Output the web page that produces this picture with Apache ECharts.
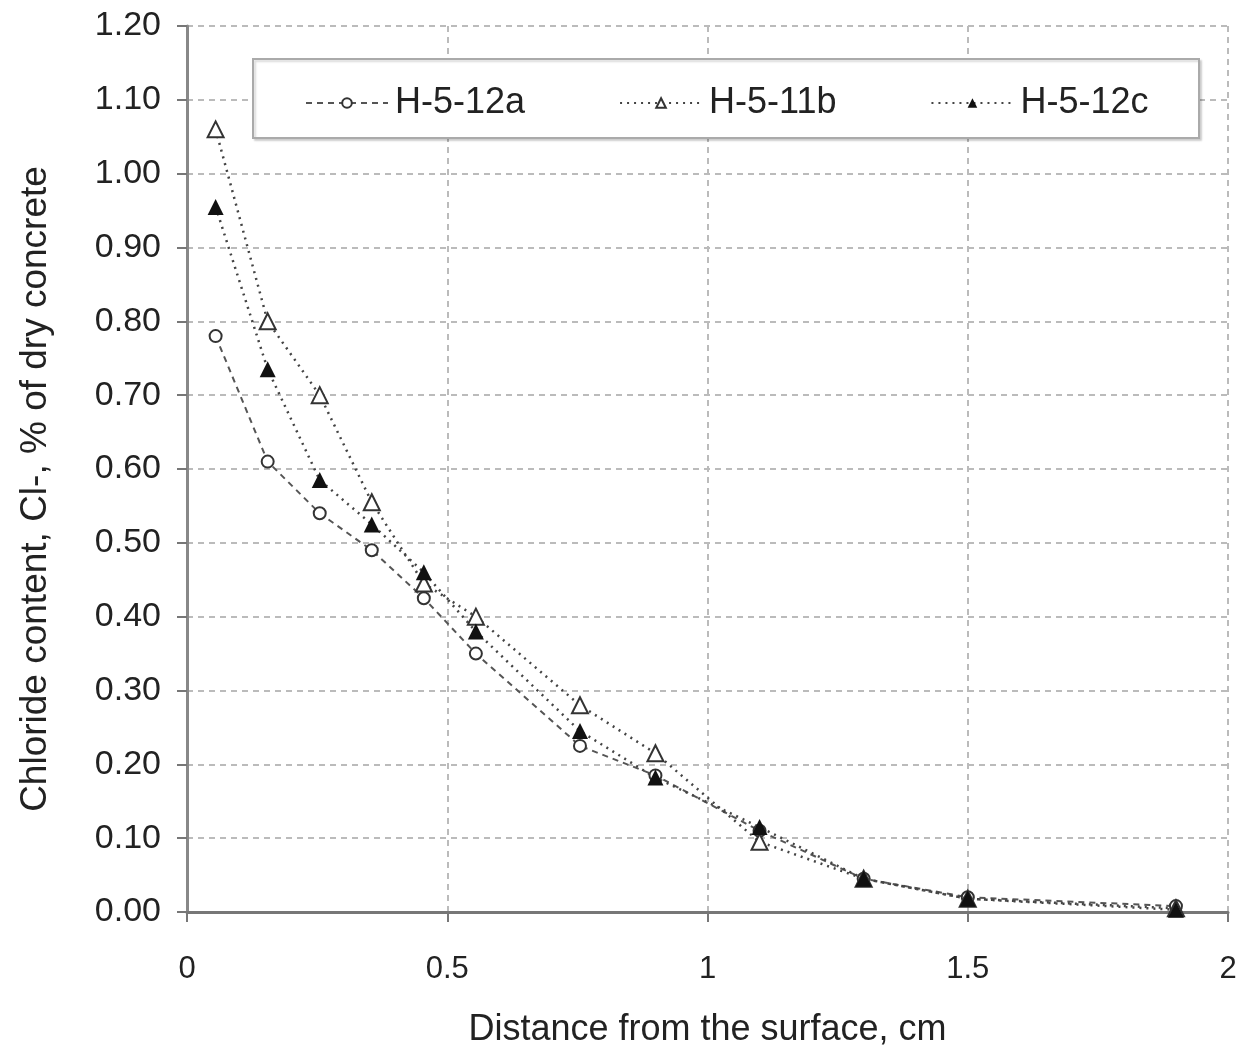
<!DOCTYPE html>
<html>
<head>
<meta charset="utf-8">
<script src="https://cdn.jsdelivr.net/npm/echarts@6/dist/echarts.min.js"></script>
<style>html,body{margin:0;padding:0;background:#fff}#c{width:1243px;height:1054px}</style>
</head>
<body>
<div id="c"></div>
<script>
var depths = [0.055, 0.155, 0.255, 0.355, 0.455, 0.555, 0.755, 0.9, 1.1, 1.3, 1.5, 1.9];
var h512a = [0.78, 0.61, 0.54, 0.49, 0.425, 0.35, 0.225, 0.185, 0.11, 0.045, 0.02, 0.008];
var h511b = [1.06, 0.80, 0.70, 0.555, 0.445, 0.40, 0.28, 0.215, 0.095, 0.045, 0.018, 0.005];
var h512c = [0.955, 0.735, 0.585, 0.525, 0.46, 0.38, 0.245, 0.182, 0.115, 0.045, 0.018, 0.003];
var seriesNames = ['H-5-12a', 'H-5-11b', 'H-5-12c'];
var xTicks = ['0', '0.5', '1', '1.5', '2'];

function pairs(vals) { return depths.map(function (d, i) { return [d, vals[i]]; }); }

var font = 'Liberation Sans, Arial, sans-serif';
var dark = '#333';
var chart = echarts.init(document.getElementById('c'));
chart.setOption({
  backgroundColor: '#fff',
  animation: false,
  grid: { left: 187, right: 15, top: 26, bottom: 142, containLabel: false },
  graphic: [{
    type: 'rect', left: 252, top: 58, z: 5,
    shape: { width: 946, height: 79 },
    style: { fill: '#fff', stroke: '#aaa', lineWidth: 2, shadowColor: 'rgba(0,0,0,0.15)', shadowOffsetX: 2, shadowOffsetY: 2, shadowBlur: 2 }
  }],
  legend: {
    left: 300, top: 80, z: 10,
    itemWidth: 82, itemHeight: 12, itemGap: 94,
    textStyle: { fontFamily: font, fontSize: 36, color: '#222', padding: [0, 0, 0, 2] },
    data: seriesNames
  },
  xAxis: {
    type: 'value', min: 0, max: 2, interval: 0.5,
    name: 'Distance from the surface, cm', nameLocation: 'middle', nameGap: 100,
    nameTextStyle: { fontFamily: font, fontSize: 36, color: '#222' },
    axisLine: { show: true, onZero: false, lineStyle: { color: '#777', width: 3 } },
    axisTick: { show: true, length: 10, lineStyle: { color: '#777', width: 2 } },
    axisLabel: { fontFamily: font, fontSize: 31, color: '#222', margin: 42,
      formatter: function (v) { return xTicks[Math.round(v / 0.5)]; } },
    splitLine: { show: true, lineStyle: { color: '#bbb', width: 2, type: [6, 5] } }
  },
  yAxis: {
    type: 'value', min: 0, max: 1.2, interval: 0.1,
    name: 'Chloride content, Cl-, % of dry concrete', nameLocation: 'middle', nameGap: 133,
    nameTextStyle: { fontFamily: font, fontSize: 37, color: '#222', padding: [0, 40, 0, 0] },
    axisLine: { show: true, lineStyle: { color: '#888', width: 3 } },
    axisTick: { show: true, length: 10, lineStyle: { color: '#777', width: 2 } },
    axisLabel: { fontFamily: font, fontSize: 34, color: '#222', margin: 26,
      formatter: function (v) { return v.toFixed(2); } },
    splitLine: { show: true, lineStyle: { color: '#bbb', width: 2, type: [6, 5] } }
  },
  series: [
    { name: seriesNames[0], type: 'line', data: pairs(h512a), symbol: 'emptyCircle', symbolSize: 12,
      itemStyle: { color: dark, borderWidth: 2 }, lineStyle: { color: '#555', width: 2, type: [6, 5] }, z: 3 },
    { name: seriesNames[1], type: 'line', data: pairs(h511b), symbol: 'emptyTriangle', symbolSize: 16,
      itemStyle: { color: dark, borderWidth: 2 }, lineStyle: { color: '#444', width: 2.5, type: [2, 5] }, z: 4 },
    { name: seriesNames[2], type: 'line', data: pairs(h512c), symbol: 'triangle', symbolSize: 16,
      itemStyle: { color: '#111' }, lineStyle: { color: '#444', width: 2.5, type: [2, 5] }, z: 5 }
  ]
});
</script>
</body>
</html>
